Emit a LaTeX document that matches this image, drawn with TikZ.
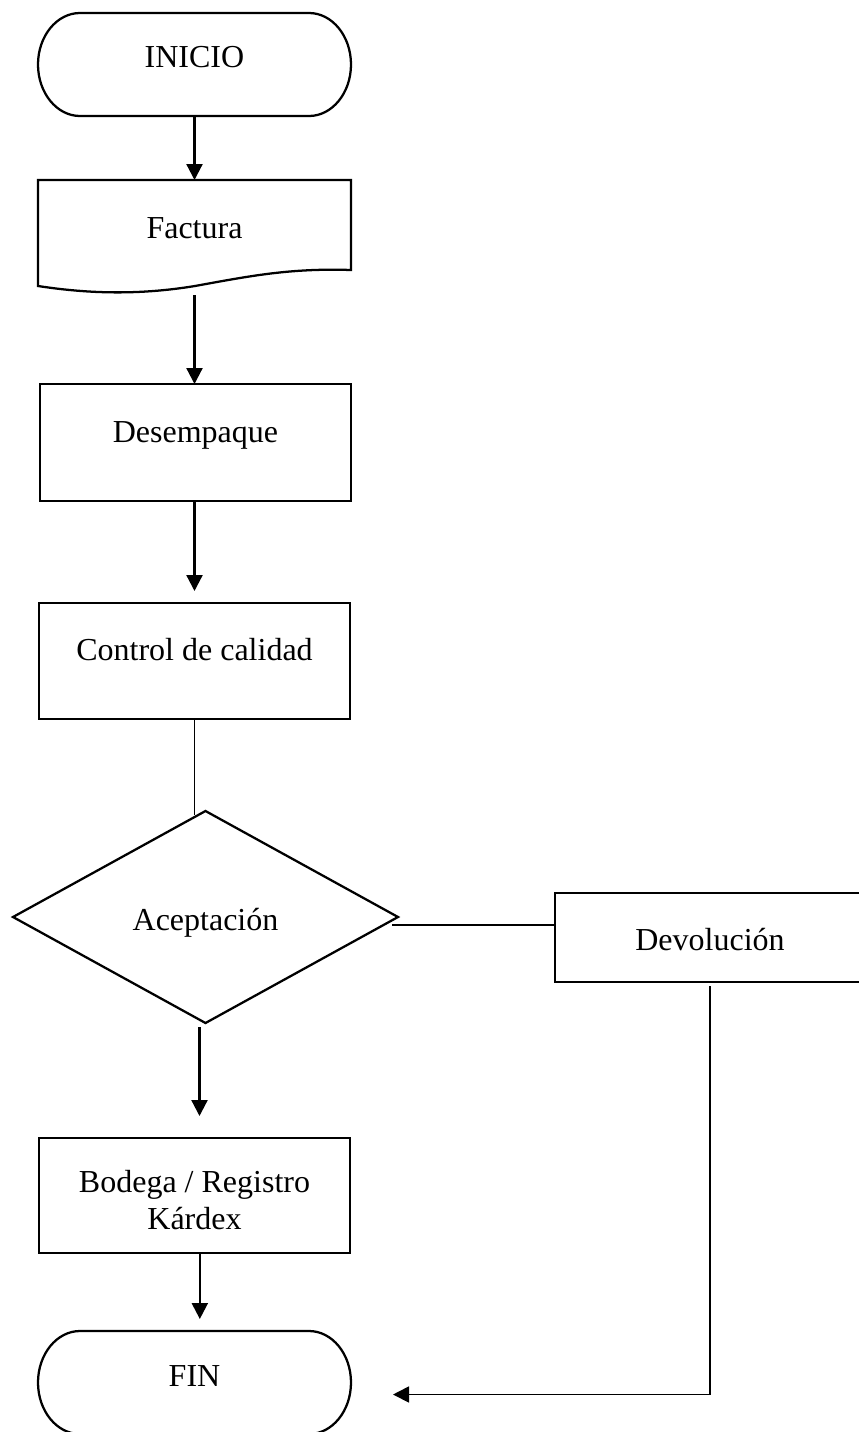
\documentclass[tikz,border=0pt]{standalone}
\usepackage{fontspec}
\setmainfont{Liberation Serif}
\usetikzlibrary{arrows.meta,shapes.geometric}

% Terminal (start/end) outline with elliptic ends, drawn around a named node
\newcommand{\termpath}[1]{%
  \draw[heavy] ([xshift=31.5pt]#1.north west) -- ([xshift=-31.5pt]#1.north east)
    arc[start angle=90,end angle=-90,x radius=31.5pt,y radius=38.625pt]
    -- ([xshift=31.5pt]#1.south west)
    arc[start angle=270,end angle=90,x radius=31.5pt,y radius=38.625pt] -- cycle;}

\begin{document}
\begin{tikzpicture}[x=0.75pt,y=-0.75pt,
  every node/.style={inner sep=0pt,outer sep=0pt,font=\fontsize{24}{27.75}\selectfont},
  heavy/.style={line width=1.7pt},
  light/.style={line width=1pt},
  terminal/.style={rectangle,minimum width=234.75pt,minimum height=77.25pt},
  procbox/.style={rectangle,draw,light,minimum width=233.25pt},
  flow/.style={heavy,-{Triangle[length=12pt,width=12pt]}},
  link/.style={light}]

\useasboundingbox (0,0) rectangle (859,1432);

% start
\node[terminal,text height=3.75pt,text depth=0pt] (inicio) at (194.5,64.5) {INICIO};
\termpath{inicio}

% document: invoice
\node[rectangle,minimum width=234.75pt,minimum height=67.5pt,
      text height=19.5pt,text depth=0pt] (factura) at (194.5,225) {Factura};
\draw[heavy] (38,286) -- (38,180) -- (351,180) -- (351,270)
  .. controls (290,268) and (250,276) .. (195,286)
  .. controls (140,295) and (90,294) .. (38,286) -- cycle;
\coordinate (fact-out) at (194.5,295);

% process steps
\node[procbox,minimum height=87.75pt,text height=0pt,text depth=0pt]
  (desempaque) at (195.5,442.5) {Desempaque};
\node[procbox,minimum height=87pt,text height=0pt,text depth=1.5pt]
  (control) at (194.5,661) {Control de calidad};

% decision
\node[diamond,draw,heavy,minimum width=288.75pt,minimum height=159pt,
      text height=19.5pt,text depth=0pt] (acept) at (205.5,917) {Aceptación};

% return branch
\node[rectangle,draw,light,minimum width=232.5pt,minimum height=66.75pt,
      text height=18.75pt,text depth=0pt] (devol) at (710,937.5) {Devolución};

% storage
\node[procbox,minimum height=86.25pt,align=center,text height=50.25pt,text depth=0pt]
  (bodega) at (194.5,1195.5) {Bodega / Registro\\Kárdex};

% end
\node[terminal,text height=5.25pt,text depth=0pt] (fin) at (194.5,1382.5) {FIN};
\termpath{fin}

% helper points for the connectors
\coordinate (dm-out) at ([xshift=-4.5pt,yshift=-6pt]acept.east);
\coordinate (dv-in) at ([yshift=9.375pt]devol.west);
\coordinate (dm-down) at ([xshift=-4.5pt,yshift=-3pt]acept.south);
\coordinate (dv-out) at ([yshift=-3pt]devol.south);
\coordinate (fin-in) at ([xshift=31.5pt,yshift=-9pt]fin.east);

% connectors
\draw[flow] (inicio.south) -- (factura.north);
\draw[flow] (fact-out) -- (fact-out |- desempaque.north);
\draw[flow,shorten >=9pt] (control.north |- desempaque.south) -- (control.north);
\draw[link,shorten >=-3pt] (control.south) -- (control.south |- acept.north);
\draw[link] (dm-out) -- (dm-out -| dv-in);
\draw[flow,shorten >=16.5pt] (dm-down) -- (dm-down |- bodega.north);
\draw[flow,shorten >=9pt] ([xshift=4pt]bodega.south) -- ([xshift=4pt]fin.north);
\draw[flow,line width=1.3pt] (dv-out) |- (fin-in);

\end{tikzpicture}
\end{document}
